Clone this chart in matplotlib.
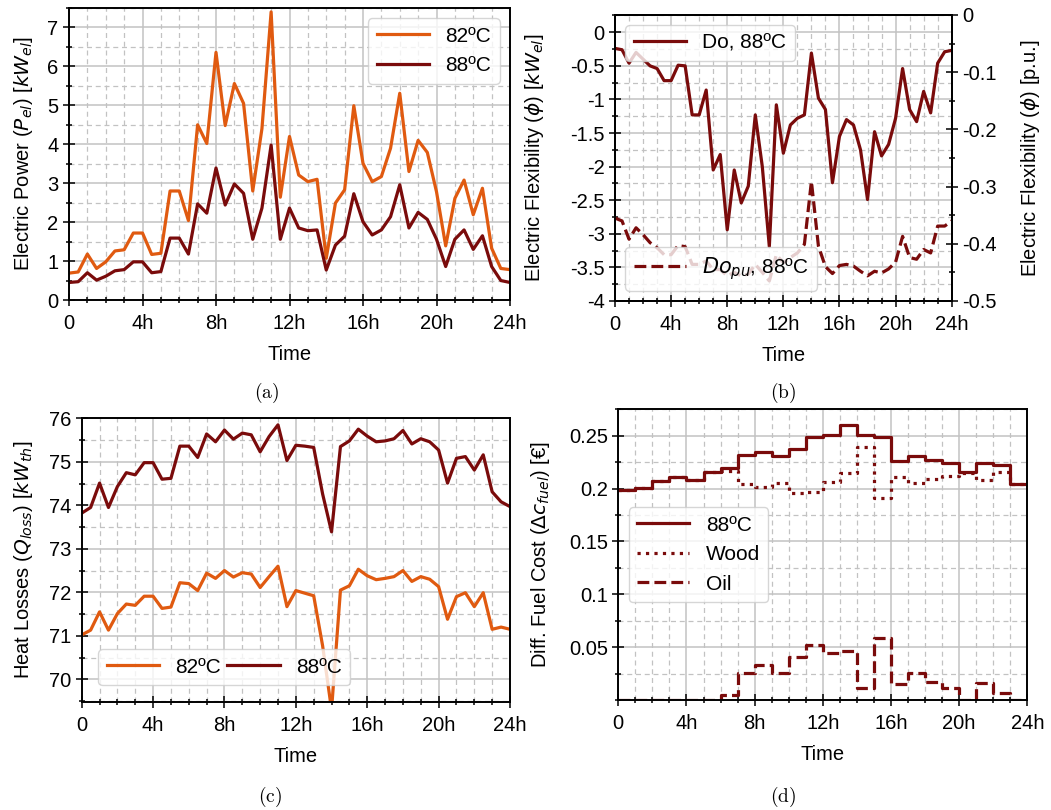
import numpy as np
import matplotlib
matplotlib.use("Agg")
import matplotlib.pyplot as plt
from matplotlib.ticker import MultipleLocator, FuncFormatter

plt.rcParams["font.family"] = ["Liberation Sans", "DejaVu Sans"]
plt.rcParams["axes.unicode_minus"] = False

ORANGE = "#e05a10"
MAROON = "#7a0b0b"

# half-hourly samples over one day
hours = np.arange(49) * 0.5
# hourly steps for the fuel cost
step_hours = np.arange(25)

# (a) electric power [kW_el]
p_82 = [0.69, 0.72, 1.18, 0.81, 0.98, 1.26, 1.29, 1.72, 1.72, 1.17, 1.20, 2.80, 2.80,
        2.04, 4.50, 4.02, 6.36, 4.48, 5.56, 5.05, 2.80, 4.40, 7.40, 2.64, 4.20, 3.21,
        3.04, 3.10, 1.07, 2.49, 2.83, 4.99, 3.51, 3.04, 3.17, 3.90, 5.31, 3.30, 4.10,
        3.79, 2.78, 1.39, 2.61, 3.08, 2.19, 2.87, 1.33, 0.81, 0.78]
p_88 = [0.45, 0.47, 0.70, 0.51, 0.61, 0.75, 0.78, 0.98, 0.98, 0.70, 0.73, 1.59, 1.59,
        1.18, 2.47, 2.23, 3.39, 2.44, 2.98, 2.74, 1.56, 2.36, 3.98, 1.56, 2.36, 1.85,
        1.78, 1.80, 0.77, 1.41, 1.64, 2.73, 2.01, 1.67, 1.80, 2.14, 2.96, 1.85, 2.25,
        2.07, 1.56, 0.86, 1.56, 1.80, 1.30, 1.65, 0.86, 0.50, 0.45]

# (b) electric flexibility, absolute and per unit
flex_do = [-0.24, -0.26, -0.46, -0.30, -0.40, -0.50, -0.54, -0.72, -0.72, -0.49, -0.50,
           -1.23, -1.23, -0.86, -2.05, -1.82, -2.94, -2.05, -2.54, -2.29, -1.23, -2.00,
           -3.19, -1.08, -1.80, -1.38, -1.28, -1.23, -0.31, -0.98, -1.15, -2.24, -1.55,
           -1.30, -1.38, -1.75, -2.49, -1.48, -1.84, -1.67, -1.28, -0.54, -1.15, -1.33,
           -0.88, -1.20, -0.46, -0.29, -0.27]
flex_pu = [-0.355, -0.360, -0.392, -0.372, -0.384, -0.398, -0.407, -0.419, -0.419, -0.403,
           -0.405, -0.436, -0.436, -0.430, -0.445, -0.445, -0.456, -0.450, -0.456, -0.453,
           -0.436, -0.450, -0.465, -0.419, -0.433, -0.424, -0.416, -0.401, -0.291, -0.404,
           -0.440, -0.452, -0.438, -0.436, -0.439, -0.448, -0.456, -0.448, -0.451, -0.444,
           -0.432, -0.387, -0.424, -0.427, -0.410, -0.416, -0.369, -0.369, -0.360]

# (c) heat losses [kW_th]
q_82 = [71.02, 71.13, 71.55, 71.13, 71.51, 71.73, 71.70, 71.91, 71.91, 71.63, 71.66, 72.22,
        72.20, 72.04, 72.44, 72.32, 72.50, 72.35, 72.45, 72.42, 72.11, 72.36, 72.60, 71.67,
        72.04, 71.98, 71.92, 70.77, 69.30, 72.05, 72.15, 72.53, 72.38, 72.29, 72.32, 72.36,
        72.50, 72.25, 72.36, 72.30, 72.13, 71.38, 71.90, 71.99, 71.67, 71.99, 71.15, 71.20,
        71.15]
q_88 = [73.82, 73.95, 74.51, 73.95, 74.43, 74.75, 74.70, 74.98, 74.98, 74.60, 74.62, 75.36,
        75.36, 75.10, 75.64, 75.46, 75.73, 75.52, 75.66, 75.62, 75.23, 75.58, 75.85, 75.03,
        75.38, 75.36, 75.33, 74.26, 73.39, 75.35, 75.48, 75.75, 75.59, 75.46, 75.48, 75.53,
        75.72, 75.41, 75.53, 75.46, 75.27, 74.51, 75.08, 75.12, 74.81, 75.16, 74.31, 74.08,
        73.97]

# (d) differential fuel cost per hour [EUR]
cost_88 = [0.199, 0.201, 0.2075, 0.2107, 0.2081, 0.216, 0.2192, 0.2318, 0.2343, 0.2308,
           0.2371, 0.249, 0.2507, 0.2601, 0.2507, 0.249, 0.2264, 0.2308, 0.2271, 0.2239,
           0.216, 0.2239, 0.2223, 0.2043]
cost_wood = [0.199, 0.201, 0.2075, 0.2107, 0.2081, 0.216, 0.2168, 0.2043, 0.2012, 0.2049,
             0.1961, 0.197, 0.2065, 0.215, 0.2396, 0.1908, 0.2112, 0.2056, 0.2088, 0.2119,
             0.215, 0.2081, 0.216, 0.2043]
cost_oil = [0.0, 0.0, 0.0, 0.0, 0.0, 0.0, 0.0046, 0.026, 0.0333, 0.026, 0.0405, 0.0522,
            0.0443, 0.0468, 0.011, 0.0584, 0.0151, 0.026, 0.0173, 0.011, 0.0, 0.0158,
            0.0069, 0.0]

TICK_FS = 14.5
LABEL_FS = 14.5
LEG_FS = 15
LW = 2.3


def short_num(v, pos):
    v = round(v, 6)
    return "%g" % (0 if v == 0 else v)


fmt_g = FuncFormatter(short_num)
fmt_h = FuncFormatter(lambda v, p: "0" if v == 0 else "%gh" % v)


def style_axes(ax, ymajor, yminor):
    ax.set_xlim(0, 24)
    ax.xaxis.set_major_locator(MultipleLocator(4))
    ax.xaxis.set_minor_locator(MultipleLocator(1))
    ax.xaxis.set_major_formatter(fmt_h)
    ax.yaxis.set_major_locator(MultipleLocator(ymajor))
    ax.yaxis.set_minor_locator(MultipleLocator(yminor))
    ax.yaxis.set_major_formatter(fmt_g)
    ax.set_xlabel("Time", fontsize=LABEL_FS, labelpad=9)
    ax.grid(which="major", color="#c2c2c2", lw=1.1, ls="-")
    ax.grid(which="minor", color="#c2c2c2", lw=0.9, ls=(0, (4, 3)))
    ax.set_axisbelow(True)
    ax.tick_params(which="both", direction="inout", width=1.1, labelsize=TICK_FS)
    ax.tick_params(which="major", length=8)
    ax.tick_params(which="minor", length=5)
    ax.tick_params(axis="x", which="major", pad=6)
    for s in ax.spines.values():
        s.set_linewidth(1.4)


fig = plt.figure(figsize=(10.51, 8.10), dpi=100)
W, H = 1051.0, 810.0


def axes_px(left, top, right, bottom):
    return fig.add_axes([left / W, 1 - bottom / H, (right - left) / W, (bottom - top) / H])


leg_kw = dict(fontsize=LEG_FS, handlelength=2.5, handletextpad=0.8)

# (a)
ax_a = axes_px(69, 8, 510, 300)
ax_a.plot(hours, p_82, color=ORANGE, lw=LW, label="82ºC")
ax_a.plot(hours, p_88, color=MAROON, lw=LW, label="88ºC")
ax_a.set_ylim(0, 7.5)
style_axes(ax_a, 1, 0.5)
ax_a.set_ylabel(r"Electric Power ($P_{el}$) [$kW_{el}$]", fontsize=LABEL_FS, labelpad=9)
ax_a.legend(loc="upper right", **leg_kw)

# (b)
ax_b = axes_px(615, 15, 951.7, 301)
ax_b.plot(hours, flex_do, color=MAROON, lw=LW, label="Do, 88ºC")
ax_b.set_ylim(-4, 0.257)
style_axes(ax_b, 0.5, 0.25)
ax_b.set_ylabel(r"Electric Flexibility ($\phi$) [$kW_{el}$]", fontsize=LABEL_FS, labelpad=17)
ax_b.legend(loc="upper left", **leg_kw)

ax_b2 = ax_b.twinx()
ax_b2.plot(hours, flex_pu, color=MAROON, lw=LW, ls="--", label=r"$Do_{pu}$, 88ºC")
ax_b2.set_ylim(-0.5, 0)
ax_b2.yaxis.set_major_locator(MultipleLocator(0.1))
ax_b2.yaxis.set_minor_locator(MultipleLocator(0.05))
ax_b2.yaxis.set_major_formatter(fmt_g)
ax_b2.tick_params(which="both", direction="inout", width=1.1, labelsize=TICK_FS)
ax_b2.tick_params(which="major", length=8)
ax_b2.tick_params(which="minor", length=5)
ax_b2.set_ylabel(r"Electric Flexibility ($\phi$) [p.u.]", fontsize=LABEL_FS, labelpad=16)
for s in ax_b2.spines.values():
    s.set_linewidth(1.4)
ax_b2.legend(loc="lower left", **leg_kw)

# (c)
ax_c = axes_px(81.7, 418.3, 510, 701.7)
ax_c.plot(hours, q_82, color=ORANGE, lw=LW, label="82ºC")
ax_c.plot(hours, q_88, color=MAROON, lw=LW, label="88ºC")
ax_c.set_ylim(69.485, 76)
style_axes(ax_c, 1, 0.5)
ax_c.set_ylabel(r"Heat Losses ($Q_{loss}$) [$kW_{th}$]", fontsize=LABEL_FS, labelpad=10)
ax_c.legend(loc="lower left", ncol=2, columnspacing=0.3, borderaxespad=0.8, **leg_kw)

# (d)
ax_d = axes_px(618.3, 409.3, 1027.3, 700)
ax_d.step(step_hours, cost_88 + cost_88[-1:], where="post", color=MAROON, lw=LW, label="88ºC")
ax_d.step(step_hours, cost_wood + cost_wood[-1:], where="post", color=MAROON, lw=LW,
          ls=":", label="Wood")
ax_d.step(step_hours, cost_oil + cost_oil[-1:], where="post", color=MAROON, lw=LW,
          ls="--", label="Oil")
ax_d.set_ylim(0, 0.275)
style_axes(ax_d, 0.05, 0.025)
ax_d.set_yticks([0.05, 0.1, 0.15, 0.2, 0.25])
ax_d.set_ylabel(r"Diff. Fuel Cost ($\Delta c_{fuel}$) [€]", fontsize=LABEL_FS, labelpad=12)
ax_d.legend(loc="center left", **leg_kw)

# sub-figure captions
for x, y, tag in [(267, 393, "a"), (783, 393, "b"), (270, 797, "c"), (783, 797, "d")]:
    fig.text(x / W, 1 - y / H, r"$\mathrm{(%s)}$" % tag, math_fontfamily="cm",
             ha="center", va="center", fontsize=14)

fig.savefig("out.png", dpi=100)
